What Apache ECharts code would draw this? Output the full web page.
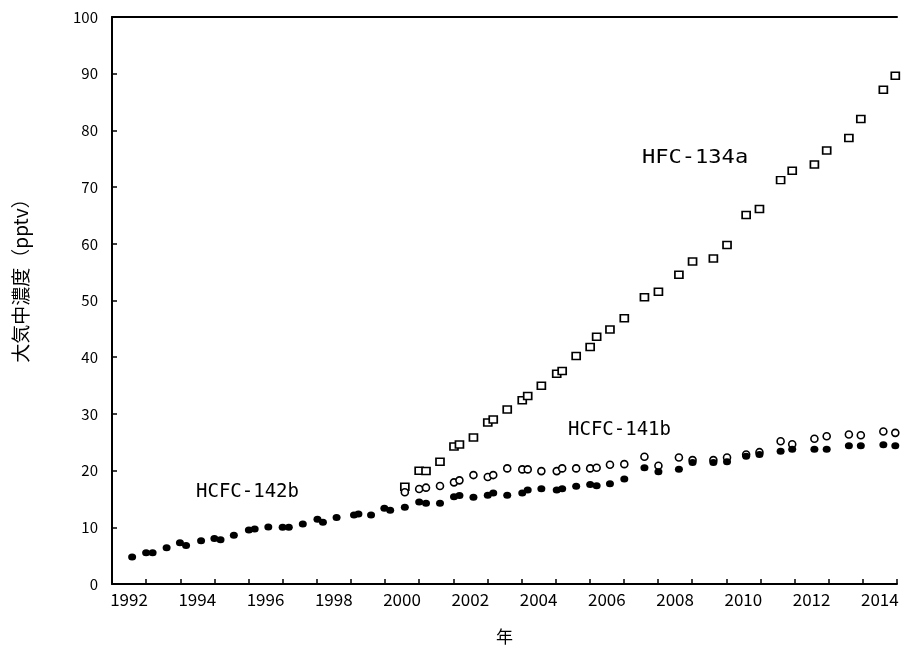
<!DOCTYPE html>
<html><head><meta charset="utf-8">
<script src="https://cdn.jsdelivr.net/npm/echarts@6/dist/echarts.min.js"></script>
<style>html,body{margin:0;padding:0;background:#fff}#c{width:902px;height:650px}</style>
</head><body><div id="c"></div>
<script>
// HCFC-142b (filled circles)
const t142b = [1992.59, 1993.00, 1993.19, 1993.60, 1993.99, 1994.17, 1994.61, 1995.00, 1995.18, 1995.57,
  1996.01, 1996.18, 1996.58, 1997.00, 1997.18, 1997.59, 1998.02, 1998.18, 1998.58, 1999.09,
  1999.22, 1999.59, 1999.98, 2000.15, 2000.58, 2001.00, 2001.20, 2001.61, 2002.02, 2002.18,
  2002.59, 2003.01, 2003.17, 2003.58, 2004.02, 2004.18, 2004.58, 2005.03, 2005.19, 2005.60,
  2006.01, 2006.20, 2006.59, 2007.01, 2007.60, 2008.01, 2008.61, 2009.01, 2009.62, 2010.02,
  2010.58, 2010.97, 2011.59, 2011.93, 2012.58, 2012.94, 2013.59, 2013.94, 2014.60, 2014.95];
const v142b = [4.75, 5.50, 5.50, 6.38, 7.26, 6.80, 7.61, 8.03, 7.79, 8.61,
  9.54, 9.72, 10.07, 10.02, 10.02, 10.60, 11.42, 10.90, 11.72, 12.18,
  12.35, 12.18, 13.36, 13.01, 13.53, 14.46, 14.24, 14.24, 15.41, 15.59,
  15.29, 15.64, 16.05, 15.64, 16.05, 16.57, 16.82, 16.57, 16.82, 17.22,
  17.57, 17.35, 17.70, 18.51, 20.51, 19.81, 20.26, 21.44, 21.44, 21.56,
  22.55, 22.85, 23.43, 23.78, 23.78, 23.78, 24.38, 24.38, 24.55, 24.38];
// HCFC-141b (open circles) and HFC-134a (open squares) share sampling times
const t2000 = [2000.58, 2001.00, 2001.20, 2001.61, 2002.02, 2002.18, 2002.59, 2003.01, 2003.17, 2003.58,
  2004.02, 2004.18, 2004.58, 2005.03, 2005.19, 2005.60, 2006.01, 2006.20, 2006.59, 2007.01,
  2007.60, 2008.01, 2008.61, 2009.01, 2009.62, 2010.02, 2010.58, 2010.97, 2011.59, 2011.93,
  2012.58, 2012.94, 2013.59, 2013.94, 2014.60, 2014.95];
const v141b = [16.17, 16.75, 16.99, 17.28, 17.93, 18.28, 19.21, 18.86, 19.21, 20.39,
  20.21, 20.21, 19.91, 19.91, 20.39, 20.39, 20.39, 20.51, 21.04, 21.14,
  22.44, 20.86, 22.32, 21.85, 21.85, 22.32, 22.85, 23.25, 25.18, 24.66,
  25.61, 26.06, 26.36, 26.24, 26.89, 26.66];
const v134a = [17.17, 19.98, 19.91, 21.56, 24.25, 24.60, 25.83, 28.47, 29.00, 30.76,
  32.39, 33.16, 34.97, 37.08, 37.56, 40.19, 41.78, 43.59, 44.87, 46.87,
  50.56, 51.55, 54.53, 56.89, 57.42, 59.81, 65.08, 66.13, 71.23, 72.88,
  73.99, 76.45, 78.68, 82.02, 87.17, 89.63];
const seriesNames = ['HFC-134a', 'HCFC-141b', 'HCFC-142b'];
const yTitle = '大気中濃度（pptv）';
const xTitle = '年';

const pairs = (t, v) => t.map((x, i) => [x, v[i]]);
const F = '"Noto Sans CJK JP", "Noto Sans", sans-serif';
const M = '"DejaVu Sans Mono", monospace';
const chart = echarts.init(document.getElementById('c'), null, {renderer: 'canvas'});
chart.setOption({
  animation: false,
  backgroundColor: '#fff',
  grid: {left: 112, top: 17, width: 785, height: 569},
  xAxis: [{
    type: 'value', min: 1992, max: 2015, interval: 1,
    axisLine: {lineStyle: {color: '#000', width: 2}},
    axisTick: {inside: true, length: 5, lineStyle: {color: '#000', width: 1.5}},
    axisLabel: {formatter: v => (v % 2 === 0 ? String(v) : ''), padding: [0, 0, 0, 34],
      margin: 7, color: '#000', fontSize: 17, fontFamily: F},
    splitLine: {show: false},
    name: xTitle, nameLocation: 'middle', nameGap: 44,
    nameTextStyle: {color: '#000', fontSize: 17, fontFamily: F}
  }, {
    type: 'value', position: 'top', min: 1992, max: 2015,
    axisLine: {show: true, onZero: false, lineStyle: {color: '#000', width: 2}},
    axisTick: {show: false}, axisLabel: {show: false}, splitLine: {show: false}
  }],
  yAxis: {
    type: 'value', min: 0, max: 100, interval: 10,
    axisLine: {show: true, lineStyle: {color: '#000', width: 2}},
    axisTick: {show: true, inside: true, length: 5, lineStyle: {color: '#000', width: 1.5}},
    axisLabel: {margin: 14, color: '#000', fontSize: 15, fontFamily: F},
    splitLine: {show: false}
  },
  series: [
    {type: 'scatter', name: seriesNames[0], data: pairs(t2000, v134a), symbol: 'rect', symbolSize: [8, 7],
      itemStyle: {color: '#fff', borderColor: '#000', borderWidth: 1.6, opacity: 1}, emphasis: {disabled: true}},
    {type: 'scatter', name: seriesNames[1], data: pairs(t2000, v141b), symbol: 'circle', symbolSize: 7,
      itemStyle: {color: '#fff', borderColor: '#000', borderWidth: 1.6, opacity: 1}, emphasis: {disabled: true}},
    {type: 'scatter', name: seriesNames[2], data: pairs(t142b, v142b), symbol: 'circle', symbolSize: [8, 7],
      itemStyle: {color: '#000', opacity: 1}, emphasis: {disabled: true}}
  ],
  graphic: [
    {type: 'text', x: 642, y: 158, scaleX: 1.16,
      style: {text: seriesNames[0], font: '19px ' + M, fill: '#000', textAlign: 'left', textVerticalAlign: 'middle'}},
    {type: 'text', x: 568, y: 430,
      style: {text: seriesNames[1], font: '19px ' + M, fill: '#000', textAlign: 'left', textVerticalAlign: 'middle'}},
    {type: 'text', x: 196, y: 492,
      style: {text: seriesNames[2], font: '19px ' + M, fill: '#000', textAlign: 'left', textVerticalAlign: 'middle'}},
    {type: 'text', x: 21, y: 276, rotation: Math.PI / 2,
      style: {text: yTitle, font: '19px ' + F, fill: '#000', textAlign: 'center', textVerticalAlign: 'middle'}}
  ]
});
</script></body></html>
